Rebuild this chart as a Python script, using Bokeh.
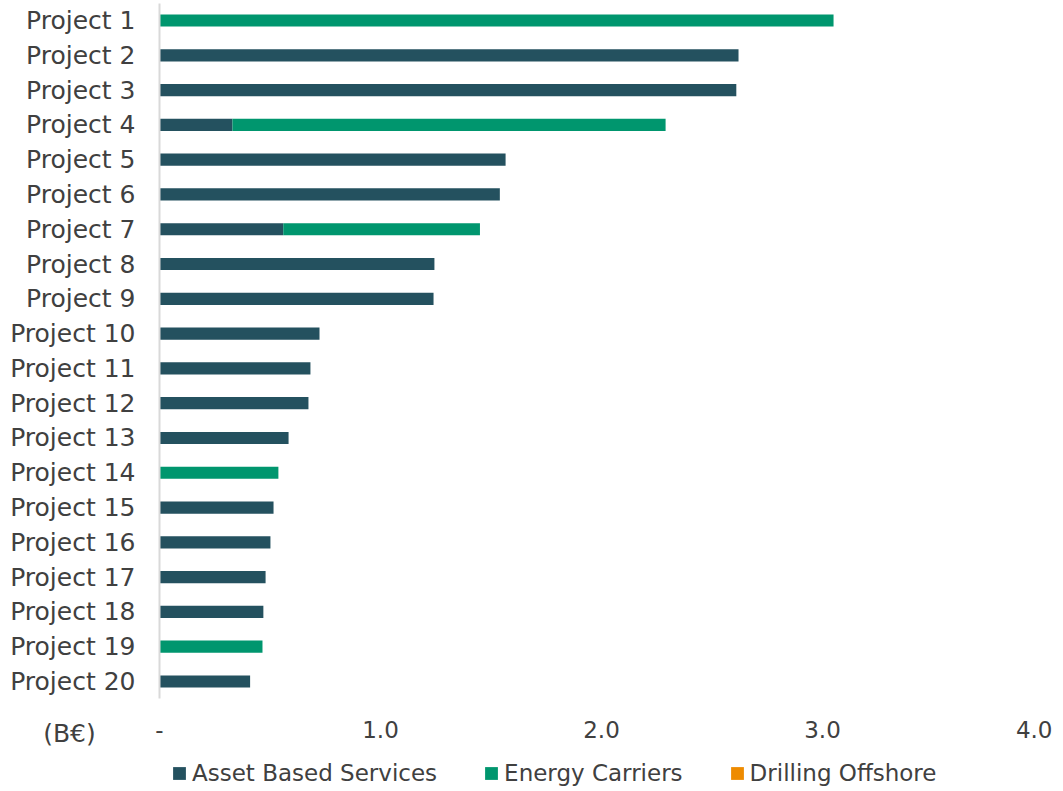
from bokeh.plotting import figure
from bokeh.models import (ColumnDataSource, Range1d, FixedTicker, NumeralTickFormatter,
                          Legend, LegendItem, LinearAxis)
from bokeh.embed import file_html
from bokeh.resources import INLINE

projects = [f"Project {i}" for i in range(1, 21)]
asset_based = [0.0, 2.62, 2.61, 0.33, 1.566, 1.54, 0.56, 1.244, 1.24, 0.724,
               0.683, 0.674, 0.584, 0.0, 0.516, 0.502, 0.48, 0.47, 0.0, 0.41]
energy_carriers = [3.05, 0.0, 0.0, 1.96, 0.0, 0.0, 0.89, 0.0, 0.0, 0.0,
                   0.0, 0.0, 0.0, 0.538, 0.0, 0.0, 0.0, 0.0, 0.466, 0.0]
drilling_offshore = [0.0] * 20
x_ticks = [0, 1, 2, 3, 4]
unit_label = "(B€)"
series = ["Asset Based Services", "Energy Carriers", "Drilling Offshore"]
colors = ["#24515F", "#00966E", "#EE8B00"]

n = len(projects)
pos = list(range(1, n + 1))
unit_pos = n + 1.495
src = ColumnDataSource(dict(y=pos, asset=asset_based, energy=energy_carriers, drilling=drilling_offshore))

p = figure(width=1052, height=788, output_backend="svg", toolbar_location=None,
           x_range=Range1d(0, 4), y_range=Range1d(n + 3.076, 0.425),
           y_axis_location=None,
           min_border_left=159, min_border_right=9, min_border_top=0, min_border_bottom=0)

rs = p.hbar_stack(["asset", "energy", "drilling"], y="y", height=0.35, color=colors,
                  line_color=None, source=src)

p.outline_line_color = None
p.grid.grid_line_color = None
p.background_fill_color = None
p.border_fill_color = None

lab_color = "#404040"
font = "DejaVu Sans"

# thin axis carrying only the grey axis line next to the bars
line_axis = LinearAxis(bounds=(0.5, n + 0.5), ticker=FixedTicker(ticks=[]),
                       axis_line_color="#D9D9D9", axis_line_width=2,
                       major_tick_line_color=None, minor_tick_line_color=None,
                       major_label_text_font_size="0px", major_label_standoff=0,
                       major_tick_out=0, major_tick_in=0)
p.add_layout(line_axis, "left")

label_axis = LinearAxis(ticker=FixedTicker(ticks=pos + [unit_pos]),
                        major_label_overrides={**{i: name for i, name in zip(pos, projects)},
                                               unit_pos: unit_label + "\u00a0" * 5},
                        axis_line_color=None, major_tick_line_color=None,
                        minor_tick_line_color=None, major_tick_out=0, major_tick_in=0,
                        major_label_text_font=font, major_label_text_font_size="25px",
                        major_label_text_color=lab_color, major_label_standoff=24)
p.add_layout(label_axis, "left")

xa = p.xaxis[0]
xa.ticker = FixedTicker(ticks=x_ticks)
xa.formatter = NumeralTickFormatter(format="0.0")
xa.major_label_overrides = {0: "-"}
xa.axis_line_color = None
xa.major_tick_line_color = None
xa.minor_tick_line_color = None
xa.major_tick_out = 0
xa.major_tick_in = 0
xa.major_label_text_font = font
xa.major_label_text_font_size = "23px"
xa.major_label_text_color = lab_color
xa.major_label_standoff = -68

legend = Legend(items=[LegendItem(label=s, renderers=[r]) for s, r in zip(series, rs)],
                orientation="horizontal", location=(12, 2),
                glyph_width=16, glyph_height=16, label_text_font=font,
                label_text_font_size="23px", label_text_color=lab_color,
                border_line_color=None, background_fill_alpha=0,
                padding=0, margin=0, spacing=46, label_standoff=5)
p.add_layout(legend)

open("out.html", "w").write(file_html(p, INLINE))
